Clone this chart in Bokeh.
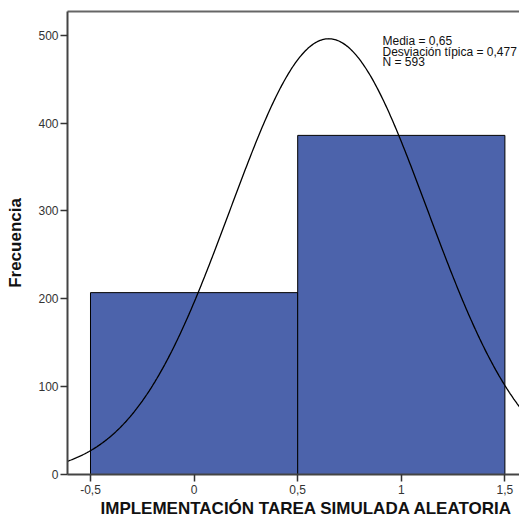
import numpy as np
from bokeh.plotting import figure
from bokeh.models import Range1d, LinearAxis, Label, FixedTicker, Title
from bokeh.embed import file_html
from bokeh.resources import INLINE

# ---- data ----
bin_left = [-0.5, 0.5]
bin_right = [0.5, 1.5]
counts = [207, 386]
x_ticks = [-0.5, 0, 0.5, 1, 1.5]
x_tick_labels = ["-0,5", "0", "0,5", "1", "1,5"]
y_ticks = [0, 100, 200, 300, 400, 500]
mean = 0.65
sd = 0.477
n = 593
bin_width = 1.0
stats_lines = ["Media = 0,65", "Desviación típica = 0,477", "N = 593"]
x_label = "IMPLEMENTACIÓN TAREA SIMULADA ALEATORIA"
y_label = "Frecuencia"

FONT = "Liberation Sans"
x_start, x_end = -0.611, 1.5705
y_start, y_end = 0, 527

p = figure(width=519, height=519, output_backend="svg", toolbar_location=None,
           x_range=Range1d(x_start, x_end), y_range=Range1d(y_start, y_end),
           min_border_left=67, min_border_right=0, min_border_top=11, min_border_bottom=45)
p.outline_line_color = None
p.xgrid.visible = False
p.ygrid.visible = False
p.background_fill_color = "white"
p.border_fill_color = "white"

# bars
p.quad(left=bin_left, right=bin_right, bottom=0, top=counts,
       fill_color="#4C63AB", line_color="black", line_width=1)

# normal curve from stated mean / sd / N
xs = np.linspace(x_start, x_end, 400)
ys = n * bin_width * np.exp(-((xs - mean) ** 2) / (2 * sd ** 2)) / (sd * np.sqrt(2 * np.pi))
p.line(xs, ys, line_color="black", line_width=1.3)

# axes
xa = p.xaxis[0]
xa.ticker = FixedTicker(ticks=x_ticks)
xa.major_label_overrides = {t: l for t, l in zip(x_ticks, x_tick_labels)}
ya = p.yaxis[0]
ya.ticker = FixedTicker(ticks=y_ticks)
for ax in (xa, ya):
    ax.minor_tick_line_color = None
    ax.major_tick_out = 7
    ax.major_tick_in = 0
    ax.major_tick_line_color = "#333333"
    ax.major_tick_line_width = 1.5
    ax.axis_line_color = "#444444"
    ax.axis_line_width = 2
    ax.major_label_text_font = FONT
    ax.major_label_text_font_size = "12px"
    ax.major_label_text_color = "#333333"
xa.major_label_standoff = 3
ya.major_label_standoff = 2
ya.axis_label = y_label
ya.axis_label_text_font = FONT
ya.axis_label_text_font_style = "bold"
ya.axis_label_text_font_size = "17px"
ya.axis_label_text_color = "#111111"
ya.axis_label_standoff = 10

top_axis = LinearAxis(ticker=FixedTicker(ticks=[]), major_tick_out=0, major_tick_in=0,
                      major_label_standoff=0, minor_tick_line_color=None,
                      axis_line_color="#666666", axis_line_width=2)
p.add_layout(top_axis, "above")

# x axis title (offset as in the original, uncropped chart)
p.add_layout(Title(text=x_label, align="left", offset=33, standoff=0,
                   vertical_align="bottom", text_font=FONT, text_font_style="bold",
                   text_font_size="17px", text_color="#111111"), "below")

# stats text
for line, yy in zip(stats_lines, [501.1, 489.2, 477.2]):
    p.add_layout(Label(x=0.9092, y=yy, text=line, text_align="left", text_baseline="top",
                       text_font=FONT, text_font_size="12px", text_color="#111111"))

open("out.html", "w").write(file_html(p, INLINE))
